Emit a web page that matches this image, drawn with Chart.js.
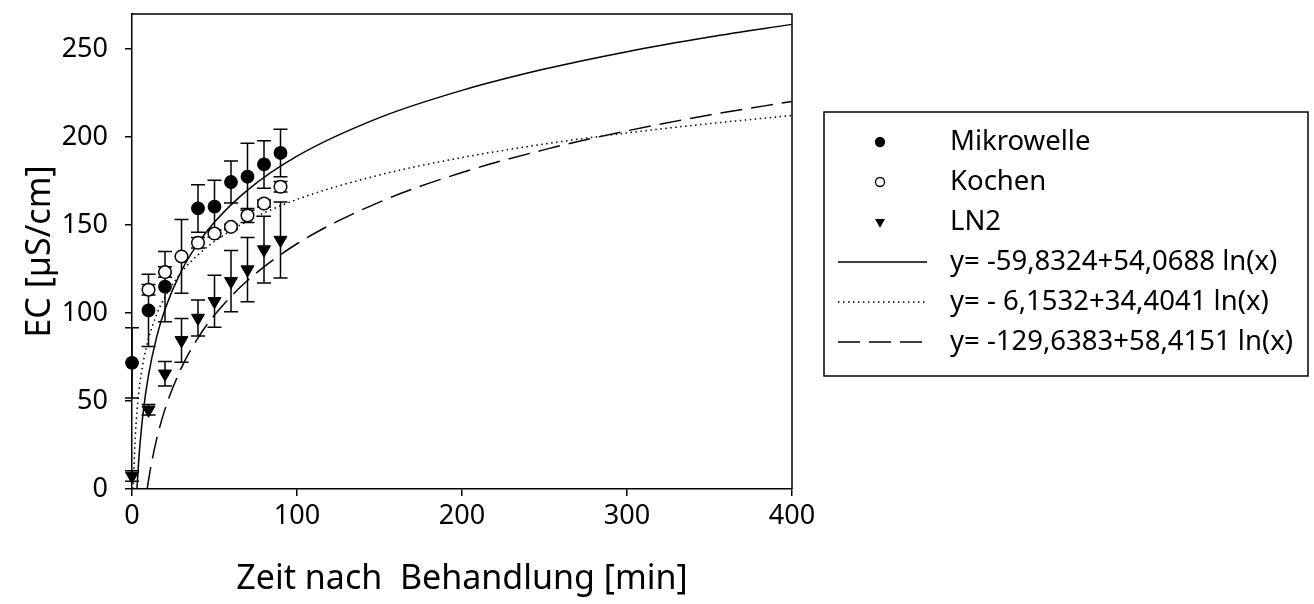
<!DOCTYPE html>
<html>
<head>
<meta charset="utf-8">
<script src="https://cdn.jsdelivr.net/npm/chart.js@4.4.1/dist/chart.umd.min.js"></script>
<style>
  html, body { margin: 0; padding: 0; background: #fff; }
  #wrap { width: 1314px; height: 604px; }
</style>
</head>
<body>
<div id="wrap"><canvas id="ec"></canvas></div>
<script>
// sampling times [min]
const timeMin = [0, 10, 20, 30, 40, 50, 60, 70, 80, 90];

// EC means and error bars [µS/cm]
const mikrowelle    = [71.7, 101.5, 115, null, 159.5, 160.5, 174.5, 177.5, 184.5, 191];
const mikrowelleErr = [20, 20.5, 20, null, 13.5, 15, 12, 19, 13.5, 13.5];
const kochen        = [null, 113.3, 123.3, 132.2, 140, 145.2, 149, 155.5, 162.3, 171.8];
const kochenErr     = [null, 3, 3, 21, 3, 2, 1.5, 4, 2, 3];
const ln2           = [7.4, 45, 65.5, 84.5, 97.2, 106.7, 118.1, 124.7, 136.1, 141.5];
const ln2Err        = [3, 3, 7, 12.4, 10.2, 14.8, 17.4, 18.3, 19, 21.6];

// fitted curves
const fitMwX = [3, 4, 5, 7, 10, 15, 20, 30, 40, 50, 70, 100, 150, 200, 250, 300, 350, 400];
const fitMwY = [0, 15.1, 27.2, 45.4, 64.7, 86.6, 102.2, 124.1, 139.6, 151.7, 169.9, 189.2, 211.1, 226.6, 238.7, 248.6, 256.9, 264.1];
const fitKoX = [0.84, 1, 1.5, 2, 3, 5, 7, 10, 15, 20, 30, 40, 50, 70, 100, 150, 200, 250, 300, 350, 400];
const fitKoY = [0, 6.2, 20.1, 30.0, 43.9, 61.5, 73.1, 85.4, 99.3, 109.2, 123.2, 133.1, 140.7, 152.3, 164.6, 178.5, 188.4, 196.1, 202.4, 207.7, 212.3];
const fitLnX = [9.2, 10, 12, 15, 20, 30, 40, 50, 70, 100, 150, 200, 250, 300, 350, 400];
const fitLnY = [0, 4.9, 15.5, 28.6, 45.4, 69.0, 85.9, 98.9, 118.5, 139.4, 163.1, 179.9, 192.9, 203.6, 212.6, 220.3];

const xTicks = [0, 100, 200, 300, 400];
const yTicks = [0, 50, 100, 150, 200, 250];

const labels = [
  'Mikrowelle', 'Kochen', 'LN2',
  'y= -59,8324+54,0688 ln(x)',
  'y= - 6,1532+34,4041 ln(x)',
  'y= -129,6383+58,4151 ln(x)'
];

const FONT = '"Noto Sans", sans-serif';

function pts(xs, ys) {
  return xs.map((x, i) => ({ x: x, y: ys[i] })).filter(p => p.y !== null);
}

// vertical error bars with caps, drawn under the markers
const errorBars = {
  id: 'errorBars',
  beforeDatasetsDraw(chart) {
    const ctx = chart.ctx;
    const xs = chart.scales.x, ys = chart.scales.y;
    const sets = [[mikrowelle, mikrowelleErr], [kochen, kochenErr], [ln2, ln2Err]];
    ctx.save();
    ctx.strokeStyle = '#000';
    ctx.lineWidth = 1.5;
    sets.forEach(([vals, errs]) => {
      vals.forEach((v, i) => {
        if (v === null) return;
        const px = xs.getPixelForValue(timeMin[i]);
        const top = ys.getPixelForValue(v + errs[i]);
        const bot = ys.getPixelForValue(v - errs[i]);
        ctx.beginPath();
        ctx.moveTo(px, top); ctx.lineTo(px, bot);
        ctx.moveTo(px - 7, top); ctx.lineTo(px + 7, top);
        ctx.moveTo(px - 7, bot); ctx.lineTo(px + 7, bot);
        ctx.stroke();
      });
    });
    ctx.restore();
  }
};

// top and right edge of the frame
const frame = {
  id: 'frame',
  afterDraw(chart) {
    const { ctx, chartArea: a } = chart;
    ctx.save();
    ctx.strokeStyle = '#000';
    ctx.lineWidth = 1.5;
    ctx.beginPath();
    ctx.moveTo(a.left, a.top); ctx.lineTo(a.right, a.top); ctx.lineTo(a.right, a.bottom);
    ctx.stroke();
    ctx.restore();
  }
};

// boxed legend on the right
const legendBox = {
  id: 'legendBox',
  afterDraw(chart) {
    const ctx = chart.ctx;
    const left = 824, top = 112, w = 484, h = 264;
    ctx.save();
    ctx.strokeStyle = '#000';
    ctx.lineWidth = 1.5;
    ctx.strokeRect(left, top, w, h);
    ctx.font = '27.5px ' + FONT;
    ctx.textBaseline = 'middle';
    chart.data.datasets.forEach((ds, i) => {
      const y = top + 30 + i * 40;
      ctx.save();
      if (ds.showLine) {
        ctx.strokeStyle = ds.borderColor;
        ctx.lineWidth = ds.borderWidth;
        ctx.setLineDash(ds.borderDash || []);
        ctx.beginPath();
        ctx.moveTo(838, y); ctx.lineTo(927, y);
        ctx.stroke();
      } else {
        ctx.fillStyle = ds.pointBackgroundColor;
        ctx.strokeStyle = ds.pointBorderColor;
        ctx.lineWidth = 1.3;
        Chart.helpers.drawPoint(ctx, {
          pointStyle: ds.pointStyle, rotation: ds.pointRotation || 0,
          radius: 4.5, borderWidth: 1.3
        }, 880, y);
      }
      ctx.restore();
      ctx.fillStyle = '#000';
      ctx.fillText(ds.label, 950, y);
    });
    ctx.restore();
  }
};

const markerBase = { showLine: false, clip: false, borderWidth: 0 };

new Chart(document.getElementById('ec'), {
  type: 'scatter',
  data: {
    datasets: [
      Object.assign({}, markerBase, {
        label: labels[0], data: pts(timeMin, mikrowelle),
        pointStyle: 'circle', pointRadius: 6.3, pointBackgroundColor: '#000',
        pointBorderColor: '#000', pointBorderWidth: 1.2
      }),
      Object.assign({}, markerBase, {
        label: labels[1], data: pts(timeMin, kochen),
        pointStyle: 'circle', pointRadius: 6.3, pointBackgroundColor: '#fff',
        pointBorderColor: '#000', pointBorderWidth: 1.5
      }),
      Object.assign({}, markerBase, {
        label: labels[2], data: pts(timeMin, ln2),
        pointStyle: 'triangle', pointRotation: 180, pointRadius: 7.5,
        pointBackgroundColor: '#000', pointBorderColor: '#000', pointBorderWidth: 1
      }),
      {
        label: labels[3], data: pts(fitMwX, fitMwY), showLine: true,
        borderColor: '#000', borderWidth: 1.5, pointRadius: 0,
        cubicInterpolationMode: 'monotone', clip: false
      },
      {
        label: labels[4], data: pts(fitKoX, fitKoY), showLine: true,
        borderColor: '#000', borderWidth: 1.5, borderDash: [1.5, 3.5], pointRadius: 0,
        cubicInterpolationMode: 'monotone', clip: false
      },
      {
        label: labels[5], data: pts(fitLnX, fitLnY), showLine: true,
        borderColor: '#000', borderWidth: 1.5, borderDash: [22, 9], pointRadius: 0,
        cubicInterpolationMode: 'monotone', clip: false
      }
    ]
  },
  options: {
    responsive: true,
    maintainAspectRatio: false,
    animation: false,
    devicePixelRatio: 1,
    layout: { padding: { top: 14, right: 522, bottom: 0, left: 0 } },
    plugins: { legend: { display: false }, tooltip: { enabled: false } },
    scales: {
      x: {
        type: 'linear', min: 0, max: 400,
        afterBuildTicks: s => { s.ticks = xTicks.map(v => ({ value: v })); },
        afterFit: s => { s.height = 115; s.paddingLeft = 0; s.paddingRight = 0; },
        ticks: { color: '#000', font: { family: FONT, size: 27 }, padding: 4 },
        grid: { drawOnChartArea: false, tickLength: 7, color: '#000', lineWidth: 1.5 },
        border: { color: '#000', width: 1.5 },
        title: {
          display: true, text: 'Zeit nach  Behandlung [min]', color: '#000',
          font: { family: FONT, size: 34 }, padding: { top: 0, bottom: 4 }
        }
      },
      y: {
        type: 'linear', min: 0, max: 270,
        afterBuildTicks: s => { s.ticks = yTicks.map(v => ({ value: v })); },
        afterFit: s => { s.width = 132; s.paddingTop = 0; s.paddingBottom = 0; },
        ticks: { color: '#000', font: { family: FONT, size: 27 }, padding: 17 },
        grid: { drawOnChartArea: false, tickLength: 7, color: '#000', lineWidth: 1.5 },
        border: { color: '#000', width: 1.5 },
        title: {
          display: true, text: 'EC [µS/cm]', color: '#000',
          font: { family: FONT, size: 34 }, padding: { top: 20, bottom: 0 }
        }
      }
    }
  },
  plugins: [errorBars, frame, legendBox]
});
</script>
</body>
</html>
